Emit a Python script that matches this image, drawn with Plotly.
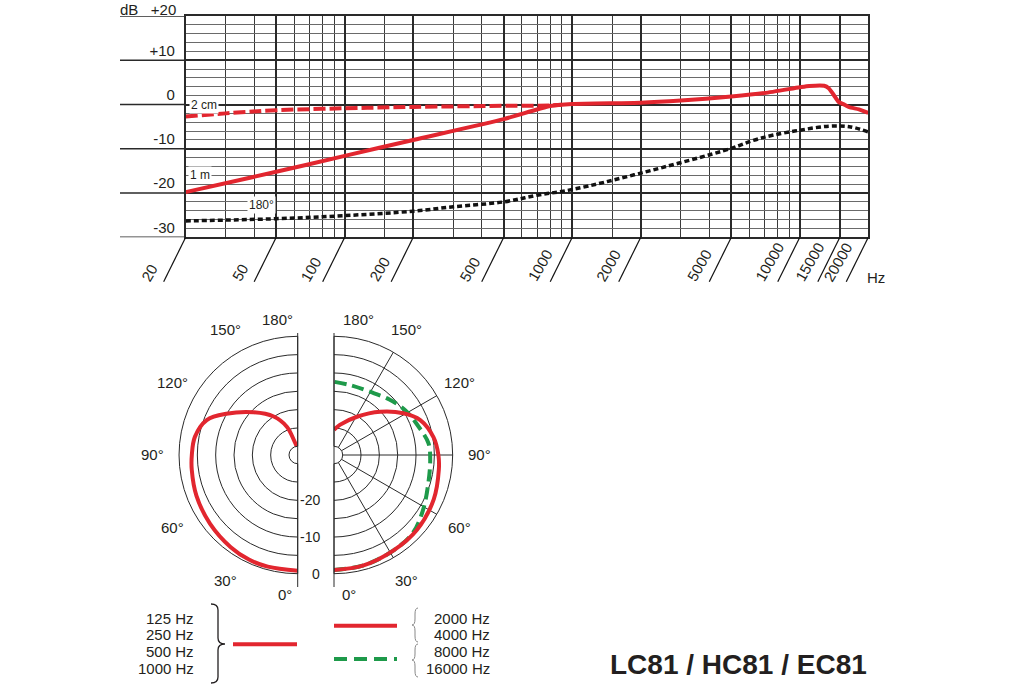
import numpy as np
import plotly.graph_objects as go

W, H = 1030, 687
FONT = "Liberation Sans, Arial, Helvetica, sans-serif"
INK = "#231f20"
RED = "#e2262f"
GREEN = "#1e9a4a"
GRID = "#2a2a2a"

# Frequency response (Hz, dB)
freq_1m = [20, 50, 100, 200, 500, 800, 1000, 2000, 3000, 5000, 7000, 10000,
           11000, 12800, 13400, 14100, 14800, 15800, 16500, 18200, 20000]
db_1m = [-19.8, -15.2, -11.6, -8.0, -3.3, -0.35, 0.1, 0.4, 0.9, 1.8, 2.6, 3.9,
         4.2, 4.25, 3.7, 2.15, 0.6, -0.1, -0.6, -1.1, -1.9]

freq_2cm = [20, 30, 50, 100, 200, 500, 800, 900]
db_2cm = [-2.7, -2.0, -1.3, -0.85, -0.55, -0.3, -0.2, -0.05]

freq_180 = [20, 50, 100, 200, 300, 500, 700, 1000, 2000, 5000, 6250, 7650,
            10000, 13400, 16500, 20000]
db_180 = [-26.3, -25.8, -25.1, -24.1, -23.1, -22.0, -20.5, -19.2, -15.5, -9.9,
          -8.1, -6.9, -5.8, -4.9, -5.0, -6.2]

x_ticks = [20, 50, 100, 200, 500, 1000, 2000, 5000, 10000, 15000, 20000]
x_ticktext = [str(v) for v in x_ticks]
x_minor = [30, 40, 60, 70, 80, 90, 150, 300, 400, 600, 700, 800, 900, 1500,
           3000, 4000, 6000, 7000, 8000, 9000]
y_ticks = [-30, -20, -10, 0, 10, 20]
y_ticktext = ["-30", "-20", "-10", "0", "+10", ""]   # +20 is written with the dB unit
y_top_label = "dB\u00a0\u00a0\u00a0+20"

# Polar patterns (degrees, dB)
theta_low = [0, 15, 25, 36, 52, 68, 82, 90, 100, 111, 120, 134, 148, 159, 167, 174]
r_low = [-0.8, -0.85, -0.9, -1.3, -2.0, -2.6, -3.2, -3.5, -3.9, -5.8, -9.9,
         -15.6, -20.0, -24.1, -28.6, -30.0]

theta_mid = [0, 15, 32, 48, 66, 82, 90, 100, 112, 121, 133, 149, 169, 180]
r_mid = [-1.0, -1.2, -1.7, -1.9, -2.6, -3.5, -3.9, -4.8, -7.0, -10.3, -15.1,
         -20.2, -24.0, -25.5]

theta_high = [0, 15, 32, 45, 58, 73, 87, 97, 109, 122, 135, 150, 167, 180]
r_high = [-1.0, -1.2, -1.7, -2.1, -3.8, -5.5, -6.1, -6.4, -8.1, -9.4, -11.0,
          -12.5, -12.8, -12.4]

polar_rings = [-30, -25, -20, -15, -10, -5, 0]
ring_labels = [-20, -10, 0]
spokes = [30, 60, 90, 120, 150]
spoke_text = [f"{a}°" for a in spokes]

low_bands = ["125 Hz", "250 Hz", "500 Hz", "1000 Hz"]
high_bands = ["2000 Hz", "4000 Hz", "8000 Hz", "16000 Hz"]
title = "LC81 / HC81 / EC81"


def px(x):
    return x / W


def py(y):
    return 1 - y / H


# frame of the response chart, in pixels
X0, X1, Y0, Y1 = 185.7, 868.3, 16, 237.3
DEC = (X1 - X0) / 3
SLANT = 44.4           # height of the slanted tick band
Y2_LOW = -0.5          # the band's axis runs a little below the slants

# polar geometry, in pixels
CX_L, CX_R, CY = 297.7, 334.0, 455.0
R_OUT, R_HOLE = 118.7, 8.7
R_LABEL = 145

fig = go.Figure()

# response curves
fig.add_trace(go.Scatter(x=freq_2cm, y=db_2cm, mode="lines",
                         line=dict(color=RED, width=4, dash="12px,4px", shape="spline")))
fig.add_trace(go.Scatter(x=freq_1m, y=db_1m, mode="lines",
                         line=dict(color=RED, width=4, shape="spline", smoothing=0.6)))
fig.add_trace(go.Scatter(x=freq_180, y=db_180, mode="lines",
                         line=dict(color="#111111", width=3.5, dash="5px,3px", shape="spline")))

# slanted tick marks under the frequency axis
sx, sy = [], []
for f in x_ticks:
    sx += [f, f * 0.8, None]
    sy += [1, 0, None]
fig.add_trace(go.Scatter(x=sx, y=sy, xaxis="x2", yaxis="y2", mode="lines",
                         line=dict(color="#111111", width=1.2), hoverinfo="skip"))

# polar plots
fig.add_trace(go.Scatterpolar(theta=theta_low, r=r_low, mode="lines", subplot="polar",
                              line=dict(color=RED, width=4, shape="spline")))
fig.add_trace(go.Scatterpolar(theta=theta_high, r=r_high, mode="lines", subplot="polar2",
                              line=dict(color=GREEN, width=4, dash="12px,6px", shape="spline")))
fig.add_trace(go.Scatterpolar(theta=theta_mid, r=r_mid, mode="lines", subplot="polar2",
                              line=dict(color=RED, width=4, shape="spline")))


def polar_layout(cx, sector, direction):
    x_from, x_to = (cx - R_OUT, cx) if direction == "clockwise" else (cx, cx + R_OUT)
    return dict(
        domain=dict(x=[px(x_from), px(x_to)], y=[py(CY + R_OUT), py(CY - R_OUT)]),
        sector=sector, hole=R_HOLE / R_OUT, bgcolor="white",
        radialaxis=dict(range=[-30, 0], tickvals=polar_rings, showticklabels=False,
                        showline=False, gridcolor=GRID, gridwidth=0.8, ticks=""),
        angularaxis=dict(rotation=270, direction=direction, tickvals=spokes,
                         showticklabels=False, showline=True, linecolor=GRID,
                         linewidth=1, gridcolor=GRID, gridwidth=0.8, ticks=""),
    )


shapes = []
# major dB lines run out to the left of the grid
for v in y_ticks:
    shapes.append(dict(type="line", xref="paper", yref="y", x0=px(120), x1=px(X0),
                       y0=v, y1=v, line=dict(color=GRID, width=1.6)))
# straight edges of the half polar plots
for cx in (CX_L, CX_R):
    shapes.append(dict(type="line", xref="paper", yref="paper", x0=px(cx), x1=px(cx),
                       y0=py(587), y1=py(333), line=dict(color=GRID, width=1)))
# legend keys
shapes.append(dict(type="line", xref="paper", yref="paper", x0=px(233), x1=px(297),
                   y0=py(644.3), y1=py(644.3), line=dict(color=RED, width=4)))
shapes.append(dict(type="line", xref="paper", yref="paper", x0=px(334), x1=px(397),
                   y0=py(625.7), y1=py(625.7), line=dict(color=RED, width=4)))
shapes.append(dict(type="line", xref="paper", yref="paper", x0=px(334), x1=px(397),
                   y0=py(659), y1=py(659), line=dict(color=GREEN, width=4, dash="13px,7px")))


def brace(x_out, x_mid, x_tip, top, bottom, tip):
    pts = [(x_out, top), (x_mid, top), (x_mid, top + 6), (x_mid, tip - 6),
           (x_mid, tip), (x_tip, tip), (x_mid, tip), (x_mid, tip + 6),
           (x_mid, bottom - 6), (x_mid, bottom), (x_out, bottom)]
    p = [(px(a), py(b)) for a, b in pts]
    return (f"M{p[0][0]},{p[0][1]} Q{p[1][0]},{p[1][1]} {p[2][0]},{p[2][1]} "
            f"L{p[3][0]},{p[3][1]} Q{p[4][0]},{p[4][1]} {p[5][0]},{p[5][1]} "
            f"Q{p[6][0]},{p[6][1]} {p[7][0]},{p[7][1]} L{p[8][0]},{p[8][1]} "
            f"Q{p[9][0]},{p[9][1]} {p[10][0]},{p[10][1]}")


shapes.append(dict(type="path", xref="paper", yref="paper",
                   path=brace(211, 218, 225, 604, 683, 644), line=dict(color=INK, width=1.3)))
shapes.append(dict(type="path", xref="paper", yref="paper",
                   path=brace(418, 415, 412, 608, 642, 625), line=dict(color="#888888", width=1)))
shapes.append(dict(type="path", xref="paper", yref="paper",
                   path=brace(418, 415, 412, 644, 677, 660), line=dict(color="#888888", width=1)))


def paper_text(text, x, y, size=15, xanchor="center", yanchor="middle", **kw):
    return dict(x=px(x), y=py(y), xref="paper", yref="paper", text=text,
                xanchor=xanchor, yanchor=yanchor, showarrow=False,
                font=dict(size=size, color=INK), **kw)


annotations = [paper_text(y_top_label, 177, 0, xanchor="right", yanchor="top",
                          borderpad=0)]
for f, t in zip(x_ticks, x_ticktext):
    annotations.append(dict(x=np.log10(f * 0.6), y=-0.12, xref="x2", yref="y2", text=t,
                            textangle=-60, xanchor="left", yanchor="bottom",
                            showarrow=False, font=dict(size=15, color=INK)))
annotations.append(paper_text("Hz", 876, 277))
for txt, f, v in (("2 cm", 24, 0), ("1 m", 23, -16), ("180°", 43, -22.8)):
    annotations.append(dict(x=np.log10(f), y=v, xref="x", yref="y", text=txt,
                            showarrow=False, bgcolor="white", borderpad=1,
                            font=dict(size=12, color=INK)))
# angular labels around both half circles
for a, t in zip(spokes, spoke_text):
    s, c = np.sin(np.radians(a)), np.cos(np.radians(a))
    annotations.append(paper_text(t, CX_L - R_LABEL * s, CY + R_LABEL * c))
    annotations.append(paper_text(t, CX_R + R_LABEL * s, CY + R_LABEL * c))
for t, x, y in (("180°", 277.5, 319), ("180°", 358.5, 319), ("0°", 285, 594), ("0°", 349, 594)):
    annotations.append(paper_text(t, x, y))
# radial dB labels in the gap between the halves
for v in ring_labels:
    r_px = R_HOLE + (v + 30) / 30 * (R_OUT - R_HOLE)
    annotations.append(paper_text(str(v), 322, CY + r_px, size=14, xanchor="right"))
for i, t in enumerate(low_bands):
    annotations.append(paper_text(t, 196, 618 + 16.8 * i, xanchor="right"))
for i, t in enumerate(high_bands):
    annotations.append(paper_text(t, 492, 618 + 16.8 * i, xanchor="right"))
annotations.append(paper_text(f"<b>{title}</b>", 738, 664, size=28))

fig.update_layout(
    width=W, height=H, margin=dict(l=0, r=0, t=0, b=0),
    paper_bgcolor="white", plot_bgcolor="white", showlegend=False,
    font=dict(family=FONT, color=INK, size=14),
    xaxis=dict(type="log", range=[np.log10(20), np.log10(20000)],
               domain=[px(X0), px(X1)], anchor="y", tickvals=x_ticks,
               showticklabels=False, ticks="", showgrid=True, gridcolor=GRID,
               gridwidth=1.6, zeroline=False, showline=True, mirror=True,
               linecolor=GRID, linewidth=1.6,
               minor=dict(tickvals=x_minor, showgrid=True, gridcolor="#3a3a3a",
                          gridwidth=0.9, ticks="")),
    yaxis=dict(range=[-30, 20], domain=[py(Y1), py(Y0)], anchor="x",
               tickvals=y_ticks, ticktext=y_ticktext, ticks="",
               ticklabelshift=-10, ticklabelstandoff=6, tickfont=dict(size=15),
               showgrid=True, gridcolor=GRID, gridwidth=1.6, zeroline=False,
               showline=True, mirror=True, linecolor=GRID, linewidth=1.6,
               minor=dict(dtick=2, tick0=0, showgrid=True, gridcolor="#6a6a6a",
                          gridwidth=0.9, ticks="")),
    xaxis2=dict(type="log", range=[np.log10(20) - 0.3, np.log10(20000)],
                domain=[px(X1 - 3.3 * DEC), px(X1)], anchor="y2", visible=False),
    yaxis2=dict(range=[Y2_LOW, 1], domain=[py(Y1 + SLANT * (1 - Y2_LOW)), py(Y1)],
                anchor="x2", visible=False),
    polar=polar_layout(CX_L, [90, 270], "clockwise"),
    polar2=polar_layout(CX_R, [-90, 90], "counterclockwise"),
    shapes=shapes,
    annotations=annotations,
)

# drop the page margin so the figure sits at the window's top-left corner
post = """
var gd = document.getElementById('{plot_id}');
document.body.style.margin = '0';
Plotly.relayout(gd, {annotations: gd.layout.annotations.slice()});
"""

fig.write_html("out.html", config={"displayModeBar": False}, post_script=post)
